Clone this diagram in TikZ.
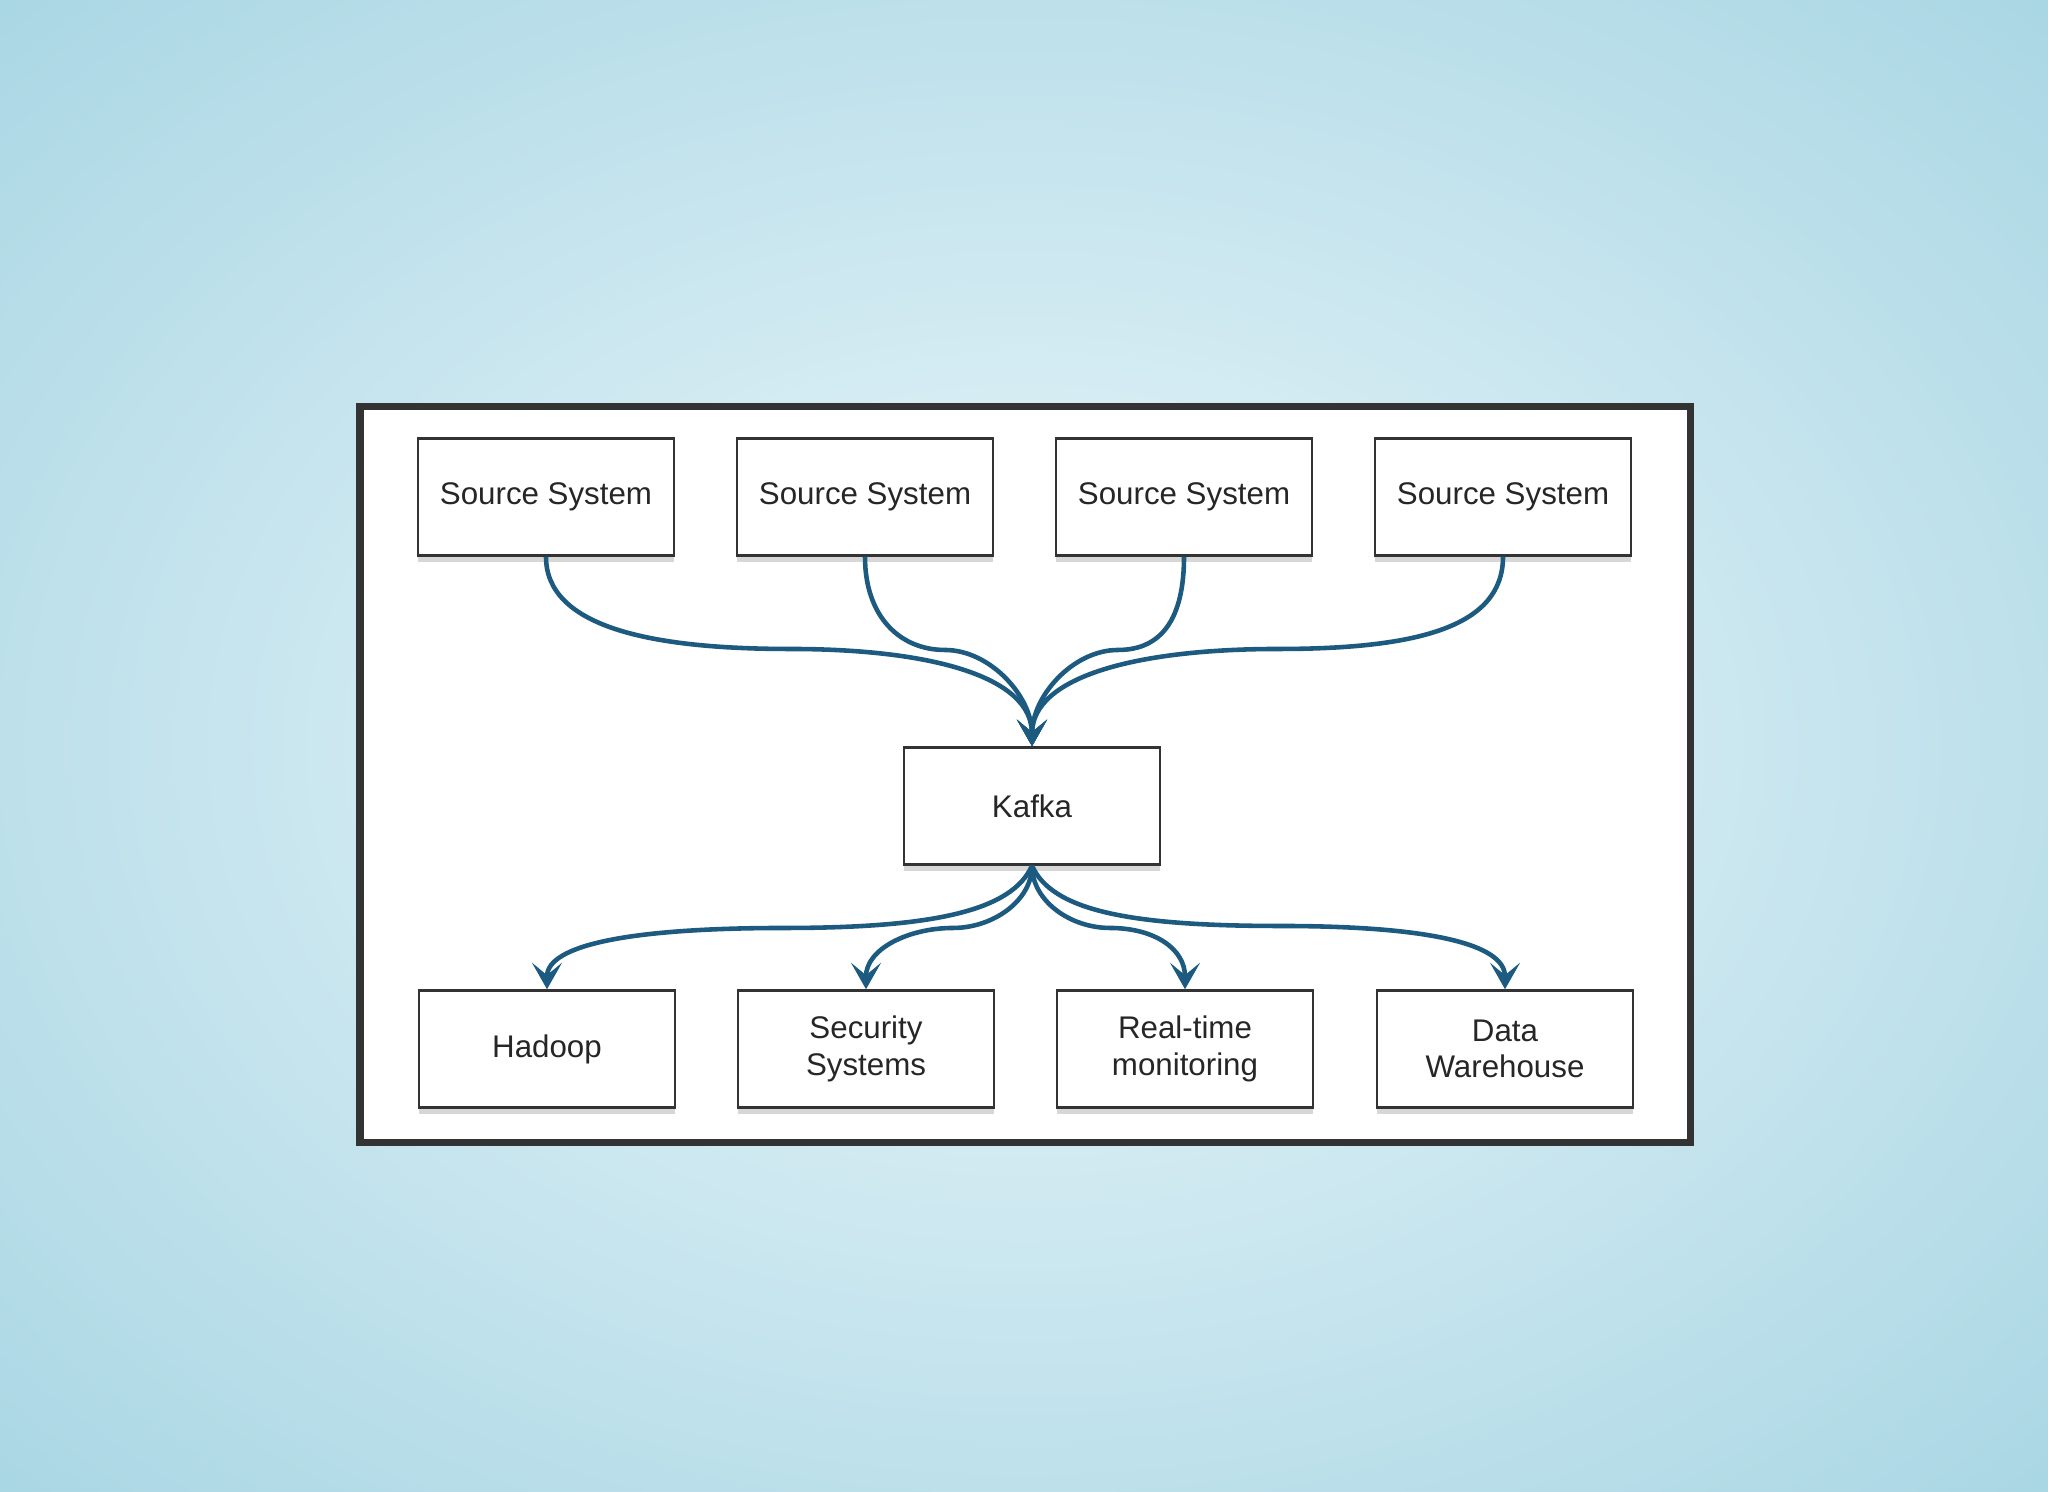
\documentclass[tikz,border=0pt]{standalone}
\usepackage{fontspec}
\setmainfont{Liberation Sans}
\usetikzlibrary{arrows.meta,shadows}

\definecolor{bginner}{RGB}{224,241,247}
\definecolor{bgouter}{RGB}{170,215,228}
\definecolor{flowblue}{RGB}{28,90,128}
\definecolor{framegray}{RGB}{51,51,51}
\pgfdeclareradialshading{bgglow}{\pgfpoint{0bp}{0bp}}{color(0bp)=(bginner); color(6bp)=(bginner); color(35bp)=(bgouter); color(50bp)=(bgouter)}

\tikzset{
  sysbox/.style={draw=framegray, line width=0.7pt, fill=white,
    minimum width=2.56cm, minimum height=1.17cm, inner sep=0pt,
    align=center, font=\fontsize{8.9}{10.4}\selectfont, text=black!85,
    drop shadow={shadow xshift=0pt, shadow yshift=-1.8pt, opacity=0.22, fill=black!70}},
  flow/.style={draw=flowblue, line width=1.3pt,
    -{Stealth[length=7.5pt,width=8.5pt,inset=3.5pt]}}
}

\begin{document}
\begin{tikzpicture}[x=0.01cm,y=0.01cm]
\useasboundingbox (0,0) rectangle (2048,1492);
\shade[shading=bgglow] (0,0) rectangle (2048,1492);
\draw[framegray, line width=2pt, fill=white] (360,349) rectangle (1690,1085);

% sources
\node[sysbox] (src1) at (546,995) {Source System};
\node[sysbox] (src2) at (865,995) {Source System};
\node[sysbox] (src3) at (1184,995) {Source System};
\node[sysbox] (src4) at (1503,995) {Source System};

\node[sysbox] (kafka) at (1032,686) {Kafka};

% sinks
\node[sysbox] (hadoop) at (547,443) {Hadoop};
\node[sysbox] (secsys) at (866,443) {Security\\Systems};
\node[sysbox] (rtmon) at (1185,443) {Real-time\\monitoring};
\node[sysbox] (dwh) at (1505,443) {Data\\Warehouse};

\coordinate (in1) at (790,843);
\coordinate (in2) at (945,842);
\coordinate (in3) at (1118,842);
\coordinate (in4) at (1278,843);
\coordinate (out1) at (784,564);
\coordinate (out2) at (953,564);
\coordinate (out3) at (1110,564);
\coordinate (out4) at (1280,566);

\draw[flow] (src1.south) .. controls +(0,-70) and +(-140,0) .. (in1)
  .. controls +(140,0) and +(0,70) .. (kafka.north);
\draw[flow] (src2.south) .. controls +(0,-60) and +(-45,0) .. (in2)
  .. controls +(45,0) and +(0,50) .. (kafka.north);
\draw[flow] (src3.south) .. controls +(0,-60) and +(45,0) .. (in3)
  .. controls +(-45,0) and +(0,50) .. (kafka.north);
\draw[flow] (src4.south) .. controls +(0,-70) and +(140,0) .. (in4)
  .. controls +(-140,0) and +(0,70) .. (kafka.north);

\draw[flow] (kafka.south) .. controls +(-20,-45) and +(150,0) .. (out1)
  .. controls +(-150,0) and +(0,45) .. (hadoop.north);
\draw[flow] (kafka.south) .. controls +(0,-35) and +(40,0) .. (out2)
  .. controls +(-45,0) and +(0,40) .. (secsys.north);
\draw[flow] (kafka.south) .. controls +(0,-35) and +(-40,0) .. (out3)
  .. controls +(45,0) and +(0,40) .. (rtmon.north);
\draw[flow] (kafka.south) .. controls +(20,-45) and +(-150,0) .. (out4)
  .. controls +(150,0) and +(0,45) .. (dwh.north);
\end{tikzpicture}
\end{document}
